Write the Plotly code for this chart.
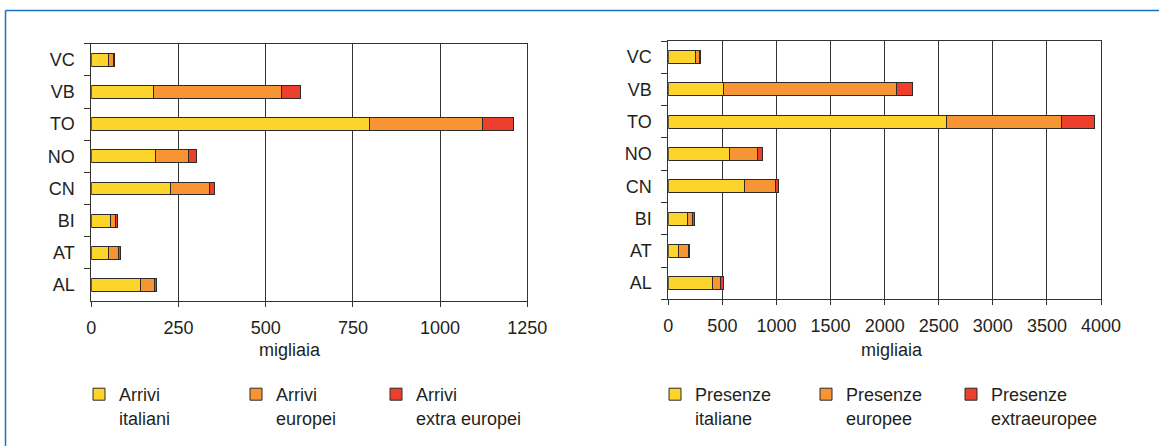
import plotly.graph_objects as go

provinces = ["AL", "AT", "BI", "CN", "NO", "TO", "VB", "VC"]

arrivi_italiani = [140, 48, 56, 227, 184, 797, 177, 49]
arrivi_europei = [41, 30, 14, 112, 95, 324, 367, 14]
arrivi_extra = [6, 5, 5, 13, 23, 90, 57, 3]

presenze_italiane = [407, 96, 180, 707, 562, 2575, 507, 252]
presenze_europee = [77, 89, 45, 280, 263, 1060, 1606, 35]
presenze_extra = [24, 9, 18, 35, 48, 307, 145, 15]

left_ticks = [0, 250, 500, 750, 1000, 1250]
right_ticks = [0, 500, 1000, 1500, 2000, 2500, 3000, 3500, 4000]

names_left = ["Arrivi<br>italiani", "Arrivi<br>europei", "Arrivi<br>extra europei"]
names_right = ["Presenze<br>italiane", "Presenze<br>europee", "Presenze<br>extraeuropee"]

YELLOW = "#FDD42C"
ORANGE = "#F79535"
RED = "#EC3F2C"
colors = [YELLOW, ORANGE, RED]
INK = "#231f20"
FONT = "Liberation Sans, Arial, sans-serif"
W, H = 1159, 446

fig = go.Figure()

left_series = [arrivi_italiani, arrivi_europei, arrivi_extra]
right_series = [presenze_italiane, presenze_europee, presenze_extra]

for i, vals in enumerate(left_series):
    fig.add_trace(go.Bar(
        y=provinces, x=vals, orientation="h", name=names_left[i],
        marker=dict(color=colors[i], line=dict(color="#2b2b2b", width=1)),
        xaxis="x", yaxis="y", legend="legend" if i == 0 else f"legend{i+1}",
        hoverinfo="skip",
    ))
for i, vals in enumerate(right_series):
    fig.add_trace(go.Bar(
        y=provinces, x=vals, orientation="h", name=names_right[i],
        marker=dict(color=colors[i], line=dict(color="#2b2b2b", width=1)),
        xaxis="x2", yaxis="y2", legend=f"legend{i+4}",
        hoverinfo="skip",
    ))

def px_x(p):
    return p / W

def px_y(p):
    return 1 - p / H

xcommon = dict(
    showgrid=True, gridcolor="#333333", gridwidth=1,
    showline=True, linecolor="#333333", linewidth=1, mirror=True,
    ticks="outside", ticklen=5, tickcolor="#333333", ticklabelstandoff=5,
    tickfont=dict(size=18, color=INK, family=FONT),
    zeroline=False, fixedrange=True, automargin=False,
)
ycommon = dict(
    type="category", categoryorder="array", categoryarray=provinces,
    showgrid=False, showline=True, linecolor="#333333", linewidth=1, mirror=True,
    ticks="outside", ticklen=6, tickcolor="#333333", tickson="boundaries",
    ticklabelstandoff=12,
    tickfont=dict(size=18, color=INK, family=FONT),
    zeroline=False, fixedrange=True, automargin=False,
)

legend_common = dict(
    orientation="v", xanchor="left", yanchor="top", valign="top",
    font=dict(size=18, color=INK, family=FONT), bgcolor="rgba(0,0,0,0)",
    borderwidth=0, itemclick=False, itemdoubleclick=False,
)
legend_x = [79, 236, 376, 655, 806, 951]
legend_y = 376

layout_legends = {}
for k, lx in enumerate(legend_x):
    key = "legend" if k == 0 else f"legend{k+1}"
    layout_legends[key] = dict(legend_common, x=px_x(lx), y=px_y(legend_y))

fig.update_layout(
    width=W, height=H, autosize=False,
    margin=dict(l=0, r=0, t=0, b=0, pad=0, autoexpand=False),
    paper_bgcolor="white", plot_bgcolor="white",
    barmode="stack", bargap=0.6,
    font=dict(family=FONT, size=18, color=INK),
    showlegend=True, hovermode=False,
    xaxis=dict(xcommon, domain=[px_x(91.3), px_x(527.3)], range=[0, 1250],
               tickvals=left_ticks, anchor="y"),
    yaxis=dict(ycommon, domain=[px_y(301), px_y(43.7)], anchor="x"),
    xaxis2=dict(xcommon, domain=[px_x(668.3), px_x(1101)], range=[0, 4000],
                tickvals=right_ticks, anchor="y2"),
    yaxis2=dict(ycommon, domain=[px_y(299.3), px_y(41)], anchor="x2"),
    annotations=[
        dict(text="migliaia", xref="x domain", yref="paper", x=0.456, y=px_y(350),
             xanchor="center", yanchor="middle", showarrow=False,
             font=dict(size=18, color=INK, family=FONT)),
        dict(text="migliaia", xref="x2 domain", yref="paper", x=0.518, y=px_y(350),
             xanchor="center", yanchor="middle", showarrow=False,
             font=dict(size=18, color=INK, family=FONT)),
    ],
    shapes=[
        dict(type="line", xref="paper", yref="paper", x0=px_x(5.5), x1=1,
             y0=px_y(10.5), y1=px_y(10.5), line=dict(color="#1f6fbf", width=1.5)),
        dict(type="line", xref="paper", yref="paper", x0=px_x(5.5), x1=px_x(5.5),
             y0=px_y(10.5), y1=0, line=dict(color="#1f6fbf", width=1.5)),
    ],
    **layout_legends,
)

fig.write_html(
    "out.html",
    config={"displayModeBar": False, "responsive": False},
    post_script=(
        "document.documentElement.style.margin='0';"
        "document.documentElement.style.overflow='hidden';"
        "document.body.style.margin='0';"
        "document.body.style.overflow='hidden';"
    ),
)
